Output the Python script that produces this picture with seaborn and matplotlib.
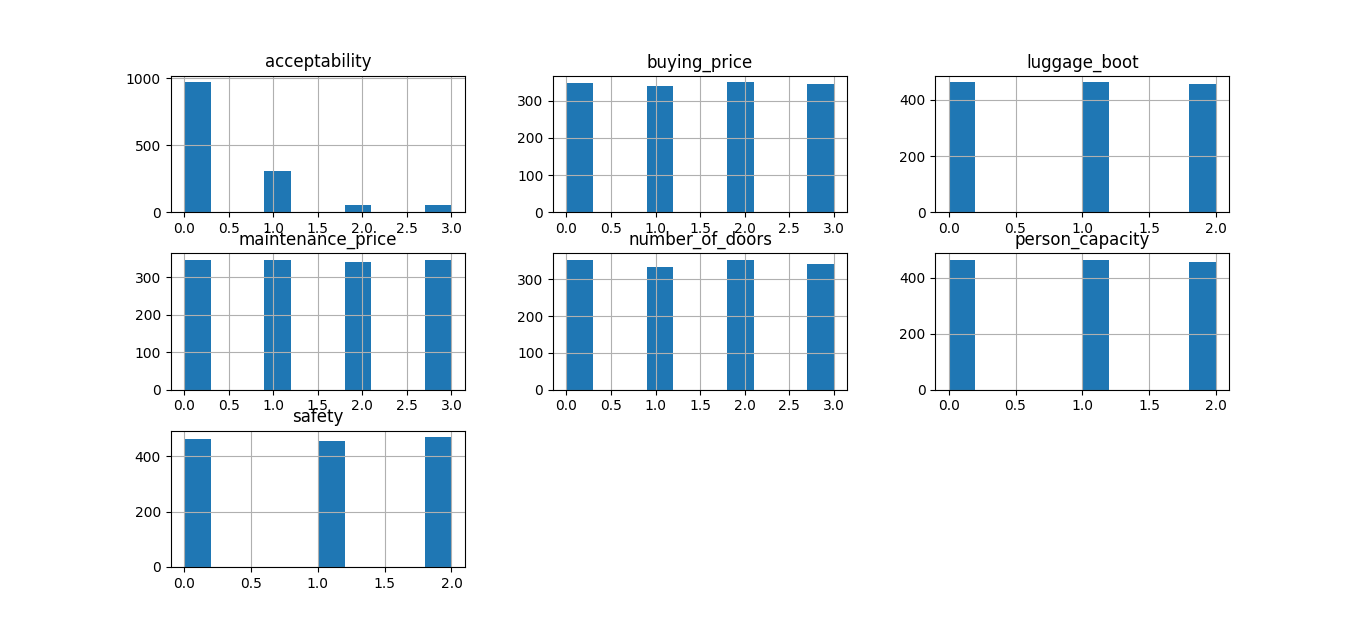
import numpy as np
import matplotlib
matplotlib.use("Agg")
import matplotlib.pyplot as plt
import seaborn as sns

# Counts per encoded category
acceptability = [968, 305, 57, 52]
buying_price = [347, 340, 350, 346]
luggage_boot = [463, 463, 456]
maintenance_price = [347, 347, 341, 347]
number_of_doors = [353, 334, 354, 342]
person_capacity = [464, 462, 456]
safety = [460, 453, 469]

columns = {
    "acceptability": acceptability,
    "buying_price": buying_price,
    "luggage_boot": luggage_boot,
    "maintenance_price": maintenance_price,
    "number_of_doors": number_of_doors,
    "person_capacity": person_capacity,
    "safety": safety,
}

# Rebuild encoded values from the counts
data = {name: np.repeat(np.arange(len(c)), c) for name, c in columns.items()}

fig, axes = plt.subplots(3, 3, figsize=(13.66, 6.37), dpi=100)
fig.subplots_adjust(left=0.125, right=0.9, bottom=0.11, top=0.881,
                    wspace=0.3, hspace=0.3)
axes = axes.ravel()

for ax, (name, values) in zip(axes, data.items()):
    sns.histplot(x=values, bins=10, ax=ax, color="#1f77b4", alpha=1,
                 linewidth=0, edgecolor="none")
    ax.set_title(name)
    ax.set_xlabel("")
    ax.set_ylabel("")
    ax.grid(True)

for ax in axes[len(data):]:
    ax.set_visible(False)

fig.savefig("out.png", dpi=100)
